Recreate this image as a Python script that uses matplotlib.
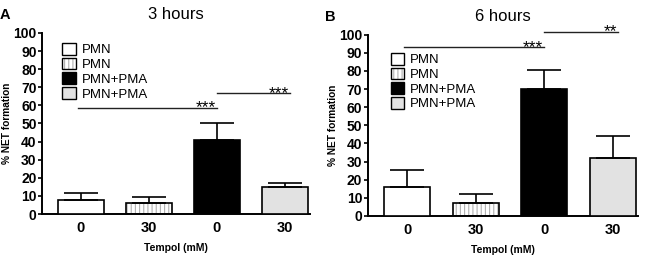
import matplotlib
matplotlib.use('Agg')
import matplotlib.pyplot as plt
from matplotlib.patches import Patch

plt.rcParams['font.family'] = ['Liberation Sans', 'DejaVu Sans']
plt.rcParams['hatch.linewidth'] = 0.8

# data
tick_labels = ['0', '30', '0', '30']
legend_labels = ['PMN', 'PMN', 'PMN+PMA', 'PMN+PMA']
means_3h = [8, 6.3, 41, 15]
errs_3h = [3.4, 3.0, 9, 2.4]
means_6h = [16, 7.2, 70, 32]
errs_6h = [9.5, 4.8, 10.3, 12]
# significance bars: (start bar, end bar, height, label)
sig_3h = [(-0.05, 2.0, 58.7, '***'), (2.0, 3.08, 66.8, '***')]
sig_6h = [(-0.05, 2.0, 93.2, '***'), (2.0, 3.08, 101.7, '**')]

faces = ['white', 'white', 'black', '#e2e2e2']
hatches = [None, '||||', None, None]


def draw_panel(ax, means, errs, sigs, title, letter, leg_anchor):
    xs = range(len(means))
    for x, m, e, fc, h in zip(xs, means, errs, faces, hatches):
        if h:
            ax.bar(x, m, width=0.67, color=fc, edgecolor='#b0b0b0', hatch=h, lw=0, zorder=2)
            ax.bar(x, m, width=0.67, color='none', edgecolor='black', lw=1.2, zorder=3)
        else:
            ax.bar(x, m, width=0.67, color=fc, edgecolor='black', lw=1.2, zorder=3)
        ax.errorbar(x, m, yerr=[[0], [e]], fmt='none', ecolor='black',
                    elinewidth=1.2, capsize=12, capthick=1.2, zorder=4)
    for x0, x1, y, lab in sigs:
        ax.plot([x0, x1], [y, y], color='#222222', lw=1.0, clip_on=False)
        ax.text(x1 - 0.02, y - 2.7, lab, ha='right', va='baseline', fontsize=12.5)

    ax.set_xlim(-0.57, 3.37)
    ax.set_ylim(0, 100)
    ax.set_yticks(range(0, 101, 10))
    ax.set_xticks(list(xs))
    ax.set_xticklabels(tick_labels)
    ax.tick_params(axis='x', length=0, pad=5, labelsize=10.5)
    ax.tick_params(axis='y', length=3, width=1.2, pad=1, labelsize=10)
    for lbl in ax.get_xticklabels() + ax.get_yticklabels():
        lbl.set_fontweight('bold')
    for s in ['top', 'right']:
        ax.spines[s].set_visible(False)
    for s in ['left', 'bottom']:
        ax.spines[s].set_linewidth(1.4)
    ax.set_ylabel('% NET formation', fontsize=7.3, fontweight='bold', labelpad=1)
    ax.set_xlabel('Tempol (mM)', fontsize=7.5, fontweight='bold', labelpad=6)
    ax.set_title(title, fontsize=12, pad=10)

    handles = []
    for fc, h in zip(faces, hatches):
        if h:
            handles.append((Patch(facecolor=fc, edgecolor='#b0b0b0', hatch=h, lw=0),
                            Patch(facecolor='none', edgecolor='black', lw=1)))
        else:
            handles.append(Patch(facecolor=fc, edgecolor='black', lw=1))
    ax.legend(handles, legend_labels, loc='upper left', bbox_to_anchor=leg_anchor,
              frameon=False, fontsize=9.5, borderpad=0, handlelength=1.0, handleheight=1.0,
              handletextpad=0.45, labelspacing=0.1, borderaxespad=0)
    ax.text(-0.16, 1.1, letter, transform=ax.transAxes, fontsize=10.5,
            fontweight='bold', va='center', ha='left')


fig = plt.figure(figsize=(6.5, 2.57), dpi=100)
ax1 = fig.add_axes([0.065, 0.167, 0.412, 0.705])
ax2 = fig.add_axes([0.566, 0.16, 0.416, 0.705])
draw_panel(ax1, means_3h, errs_3h, sig_3h, '3 hours', 'A', (0.075, 0.945))
draw_panel(ax2, means_6h, errs_6h, sig_6h, '6 hours', 'B', (0.085, 0.9))

fig.savefig('out.png', dpi=100)
